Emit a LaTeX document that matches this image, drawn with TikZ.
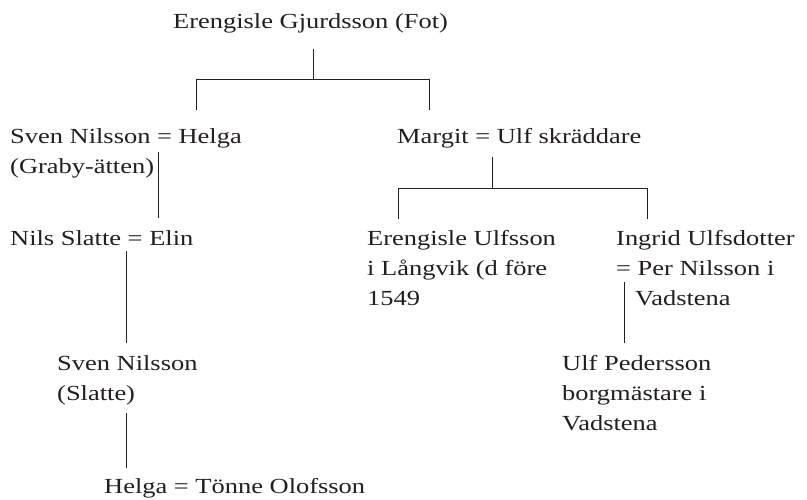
\documentclass[tikz,border=0pt]{standalone}
\usepackage{fontspec}
\setmainfont[FakeStretch=1.23]{Liberation Serif}
\definecolor{ink}{HTML}{231F20}
\newcommand\famlines[1]{\vtop{\baselineskip=30pt #1}}
\newcommand\fline[1]{\hbox{#1}}
\begin{document}
\begin{tikzpicture}[x=1pt,y=-1pt,
  person/.style={inner sep=0pt,anchor=base west,text=ink,font=\fontsize{21.5}{30}\selectfont},
  link/.style={draw=ink,line width=0.9pt}]
\useasboundingbox[fill=white] (0,0) rectangle (807,499);
% nodes
\node[person] (top) at (173,28) {Erengisle Gjurdsson (Fot)};
\node[person] (sven) at (10,143) {\famlines{\fline{Sven Nilsson = Helga}\fline{(Graby-ätten)}}};
\node[person] (margit) at (397,143) {Margit = Ulf skräddare};
\node[person] (nils) at (10,245) {Nils Slatte = Elin};
\node[person] (eru) at (367,245) {\famlines{\fline{Erengisle Ulfsson}\fline{i Långvik (d före}\fline{1549}}};
\node[person] (ingrid) at (616,245) {\famlines{\fline{Ingrid Ulfsdotter}\fline{= Per Nilsson i}\fline{\hspace*{19pt}Vadstena}}};
\node[person] (sven2) at (57,370) {\famlines{\fline{Sven Nilsson}\fline{(Slatte)}}};
\node[person] (ulf) at (562,370) {\famlines{\fline{Ulf Pedersson}\fline{borgmästare i}\fline{Vadstena}}};
\node[person] (helga) at (104,493) {Helga = Tönne Olofsson};
% junction coordinates
\coordinate (t1) at (313,49);
\coordinate (t2) at (313,79);
\coordinate (tl) at (196,79);
\coordinate (tr) at (429,79);
\coordinate (sv) at (196,110);
\coordinate (ma) at (429,110);
\coordinate (s1) at (158,152);
\coordinate (s2) at (158,218);
\coordinate (m1) at (492,157);
\coordinate (m2) at (492,188);
\coordinate (ml) at (398,188);
\coordinate (mr) at (647,188);
\coordinate (e1) at (398,219);
\coordinate (i1) at (647,219);
\coordinate (n1) at (126,251);
\coordinate (n2) at (126,343);
\coordinate (v1) at (126,413);
\coordinate (v2) at (126,468);
\coordinate (g1) at (624,282);
\coordinate (g2) at (624,343);
% connectors
\draw[link] (t1) -- (t2);
\draw[link] (sv) -- (tl) -- (tr) -- (ma);
\draw[link] (s1) -- (s2);
\draw[link] (m1) -- (m2);
\draw[link] (e1) -- (ml) -- (mr) -- (i1);
\draw[link] (n1) -- (n2);
\draw[link] (v1) -- (v2);
\draw[link] (g1) -- (g2);
\end{tikzpicture}
\end{document}
